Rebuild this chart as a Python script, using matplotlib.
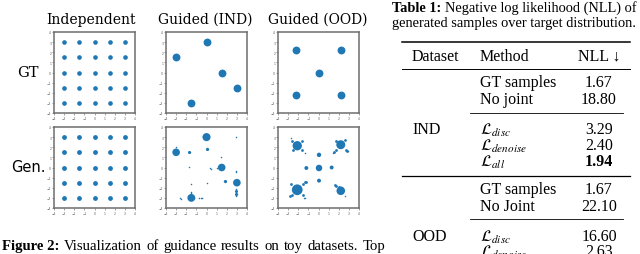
import matplotlib
matplotlib.use("Agg")
import matplotlib.pyplot as plt
from matplotlib.lines import Line2D

plt.rcParams['mathtext.fontset'] = 'stix'

# ---------------- data ----------------
col_titles = ["Independent", "Guided (IND)", "Guided (OOD)"]
row_labels = ["GT", "Gen."]
ticks = [-4, -3, -2, -1, 0, 1, 2, 3, 4]

grid_vals = [-3, -1.5, 0, 1.5, 3]
ind_centers_x = [-3.0, 0.0, 1.5, 3.0, -1.5]
ind_centers_y = [1.5, 3.0, 0.0, -1.5, -3.0]
ood_centers_x = [-2.2, 2.2, 0.0, -2.2, 2.2]
ood_centers_y = [2.25, 2.25, 0.0, -2.25, -2.25]

# generated IND: strays / small clusters
ind_stray_x = [2.9, 0.05, 0.1, -1.75, -1.65, -3.0, -1.7, 0.4, 0.35, 1.4, 1.0, 2.92, 2.95,
               1.75, 1.85, 0.03, -1.5, -1.55, -1.5, -2.65, -2.55, -0.7, -0.4, -0.55,
               2.95, 2.9, 3.0, 2.95, -1.2, -1.35]
ind_stray_y = [3.0, 1.9, 1.8, 1.5, 1.52, 2.0, 0.05, -0.1, -0.05, 1.0, 0.0, -0.35, -0.45,
               -1.35, -1.4, -1.55, -1.6, -2.4, -2.55, -3.0, -3.1, -3.0, -3.05, -3.0,
               -2.1, -2.35, -2.6, -2.8, -3.0, -2.95]
ind_blob_x = [0.05, -1.75, 1.8, 2.95, 2.95]
ind_blob_y = [1.85, 1.5, -1.38, -2.3, -2.6]

# generated OOD: blobs, arms, strays
ood_gen_x = [-2.1, 2.2, 0.05, -2.1, 2.2, 0.05, 0.05, -1.2, 1.3]
ood_gen_y = [2.15, 2.25, -0.05, -2.2, -2.3, 1.25, -1.3, -0.05, 0.0]
ood_gen_s = [45, 42, 22, 60, 38, 10, 8, 8, 8]
ood_arm_x = [-2.6, -1.6, -2.55, -1.65, -2.7, -1.5, -2.6, -1.55, -1.3, -2.85,
             1.7, 2.7, 2.65, 1.75, 1.5, 2.85, 2.0, 1.75, 1.6, -1.2]
ood_arm_y = [2.6, 1.7, 1.7, 2.6, -1.65, -2.75, -2.75, -1.65, -1.4, -2.85,
             1.7, 1.75, 2.7, 2.65, 1.55, 1.6, -1.95, -1.85, -1.7, -1.45]
ood_stray_x = [-2.7, -1.3, 1.5, 2.9, -1.35, 2.6, 1.4, -1.4]
ood_stray_y = [2.87, 1.43, 1.53, 1.67, -3.05, -2.8, 1.4, -3.0]

table_caption_bold = "Table 1:"
table_caption = ["Negative log likelihood (NLL) of",
                 "generated samples over target distribution."]
datasets = ["IND", "OOD"]
methods = [["GT samples", "No joint", r"$\mathcal{L}_{disc}$", r"$\mathcal{L}_{denoise}$", r"$\mathcal{L}_{all}$"],
           ["GT samples", "No Joint", r"$\mathcal{L}_{disc}$", r"$\mathcal{L}_{denoise}$"]]
nll = [["1.67", "18.80", "3.29", "2.40", "1.94"],
       ["1.67", "22.10", "16.60", "2.63"]]
bold_cells = [(0, 4)]

fig_caption_bold = "Figure 2:"
fig_caption = "Visualization of guidance results on toy datasets. Top"

# ---------------- figure ----------------
W, H = 640, 255
fig = plt.figure(figsize=(6.4, 2.55), dpi=100)
C = '#1f77b4'


def fx(x):
    return x / W


def fy(y):
    return 1 - y / H


col_left = [54, 166, 278]
row_top = [33, 128]
aw, ah = 81, 81


def style(ax):
    ax.set_xlim(-4, 4)
    ax.set_ylim(-4, 4)
    ax.set_xticks(ticks)
    ax.set_yticks(ticks)
    ax.tick_params(labelsize=2.2, length=1.2, width=0.4, pad=0.8, colors='#555555')
    for s in ax.spines.values():
        s.set_color('#6e6e6e')
        s.set_linewidth(1.1)


axes = [[None] * 3 for _ in range(2)]
for r in range(2):
    for c in range(3):
        ax = fig.add_axes([fx(col_left[c]), fy(row_top[r] + ah), aw / W, ah / H])
        style(ax)
        axes[r][c] = ax

gx = [x for y in grid_vals for x in grid_vals]
gy = [y for y in grid_vals for x in grid_vals]
axes[0][0].scatter(gx, gy, s=11, color=C, linewidths=0)
axes[1][0].scatter(gx, gy, s=12, color=C, linewidths=0)

axes[0][1].scatter(ind_centers_x, ind_centers_y, s=32, color=C, linewidths=0)
axes[0][2].scatter(ood_centers_x, ood_centers_y, s=32, color=C, linewidths=0)

axes[1][1].scatter(ind_centers_x, ind_centers_y, s=[30, 34, 30, 30, 32], color=C, linewidths=0)
axes[1][1].scatter(ind_blob_x, ind_blob_y, s=5, color=C, linewidths=0)
axes[1][1].scatter(ind_stray_x, ind_stray_y, s=1.2, color=C, linewidths=0)

axes[1][2].scatter(ood_gen_x, ood_gen_y, s=ood_gen_s, color=C, linewidths=0)
axes[1][2].scatter(ood_arm_x, ood_arm_y, s=4, color=C, linewidths=0)
axes[1][2].scatter(ood_stray_x, ood_stray_y, s=1.2, color=C, linewidths=0)

# column titles & row labels
title_x = [91, 205, 318]
for c in range(3):
    fig.text(fx(title_x[c]), fy(20), col_titles[c], ha='center', va='center',
             family='DejaVu Serif', fontsize=10)
fig.text(fx(28), fy(73), row_labels[0], ha='center', va='center', family='DejaVu Serif', fontsize=10.5)
fig.text(fx(28), fy(168), row_labels[1], ha='center', va='center', family='DejaVu Sans', fontsize=10.5)

# ---------------- table ----------------
serif = 'Liberation Serif'
fig.canvas.draw()
renderer = fig.canvas.get_renderer()


def bold_then_normal(x, y, bold, rest, size, right=None):
    t = fig.text(fx(x), fy(y), bold, ha='left', va='center', family=serif,
                 fontweight='bold', fontsize=size)
    bb = t.get_window_extent(renderer)
    x0 = x + bb.width
    words = rest.split(' ')
    if right is None:
        fig.text(fx(x0 + 4), fy(y), rest, ha='left', va='center',
                 family=serif, fontsize=size)
        return
    # justified: distribute words between x0 and right
    ts = [fig.text(0, fy(y), w, ha='left', va='center', family=serif, fontsize=size)
          for w in words]
    widths = [t.get_window_extent(renderer).width for t in ts]
    gap = (right - x0 - sum(widths)) / len(words)
    cur = x0 + gap
    for t, w in zip(ts, widths):
        t.set_x(fx(cur))
        cur += w + gap


cap_fs = 10.4
bold_then_normal(392, 8, table_caption_bold, table_caption[0], cap_fs)
fig.text(fx(392), fy(24), table_caption[1], ha='left', va='center', family=serif, fontsize=cap_fs)


def hline(x0, x1, y, lw):
    fig.add_artist(Line2D([fx(x0), fx(x1)], [fy(y), fy(y)], color='black', lw=lw,
                          transform=fig.transFigure))


tfs = 11.5
hline(402, 630, 43, 1.1)
fig.text(fx(412), fy(57), "Dataset", ha='left', va='center', family=serif, fontsize=tfs)
fig.text(fx(480), fy(57), "Method", ha='left', va='center', family=serif, fontsize=tfs)
fig.text(fx(599), fy(57), "NLL ↓", ha='center', va='center', family=serif, fontsize=tfs)
hline(402, 630, 70, 0.7)

row_y = [[83, 100, 130, 146, 162], [190, 207, 237, 252]]
ds_y = [130, 237]
for d in range(2):
    fig.text(fx(412), fy(ds_y[d]), datasets[d], ha='left', va='center', family=serif, fontsize=tfs)
    for i, (m, v) in enumerate(zip(methods[d], nll[d])):
        fig.text(fx(480), fy(row_y[d][i]), m, ha='left', va='center', family=serif, fontsize=tfs)
        fig.text(fx(599), fy(row_y[d][i]), v, ha='center', va='center', family=serif, fontsize=tfs,
                 fontweight='bold' if (d, i) in bold_cells else 'normal')
hline(470, 623, 114, 0.6)
hline(402, 630, 177, 0.9)
hline(470, 623, 220, 0.6)

# ---------------- figure caption ----------------
bold_then_normal(2, 247, fig_caption_bold, fig_caption, 10.6, right=385)

fig.savefig("out.png", dpi=100)
